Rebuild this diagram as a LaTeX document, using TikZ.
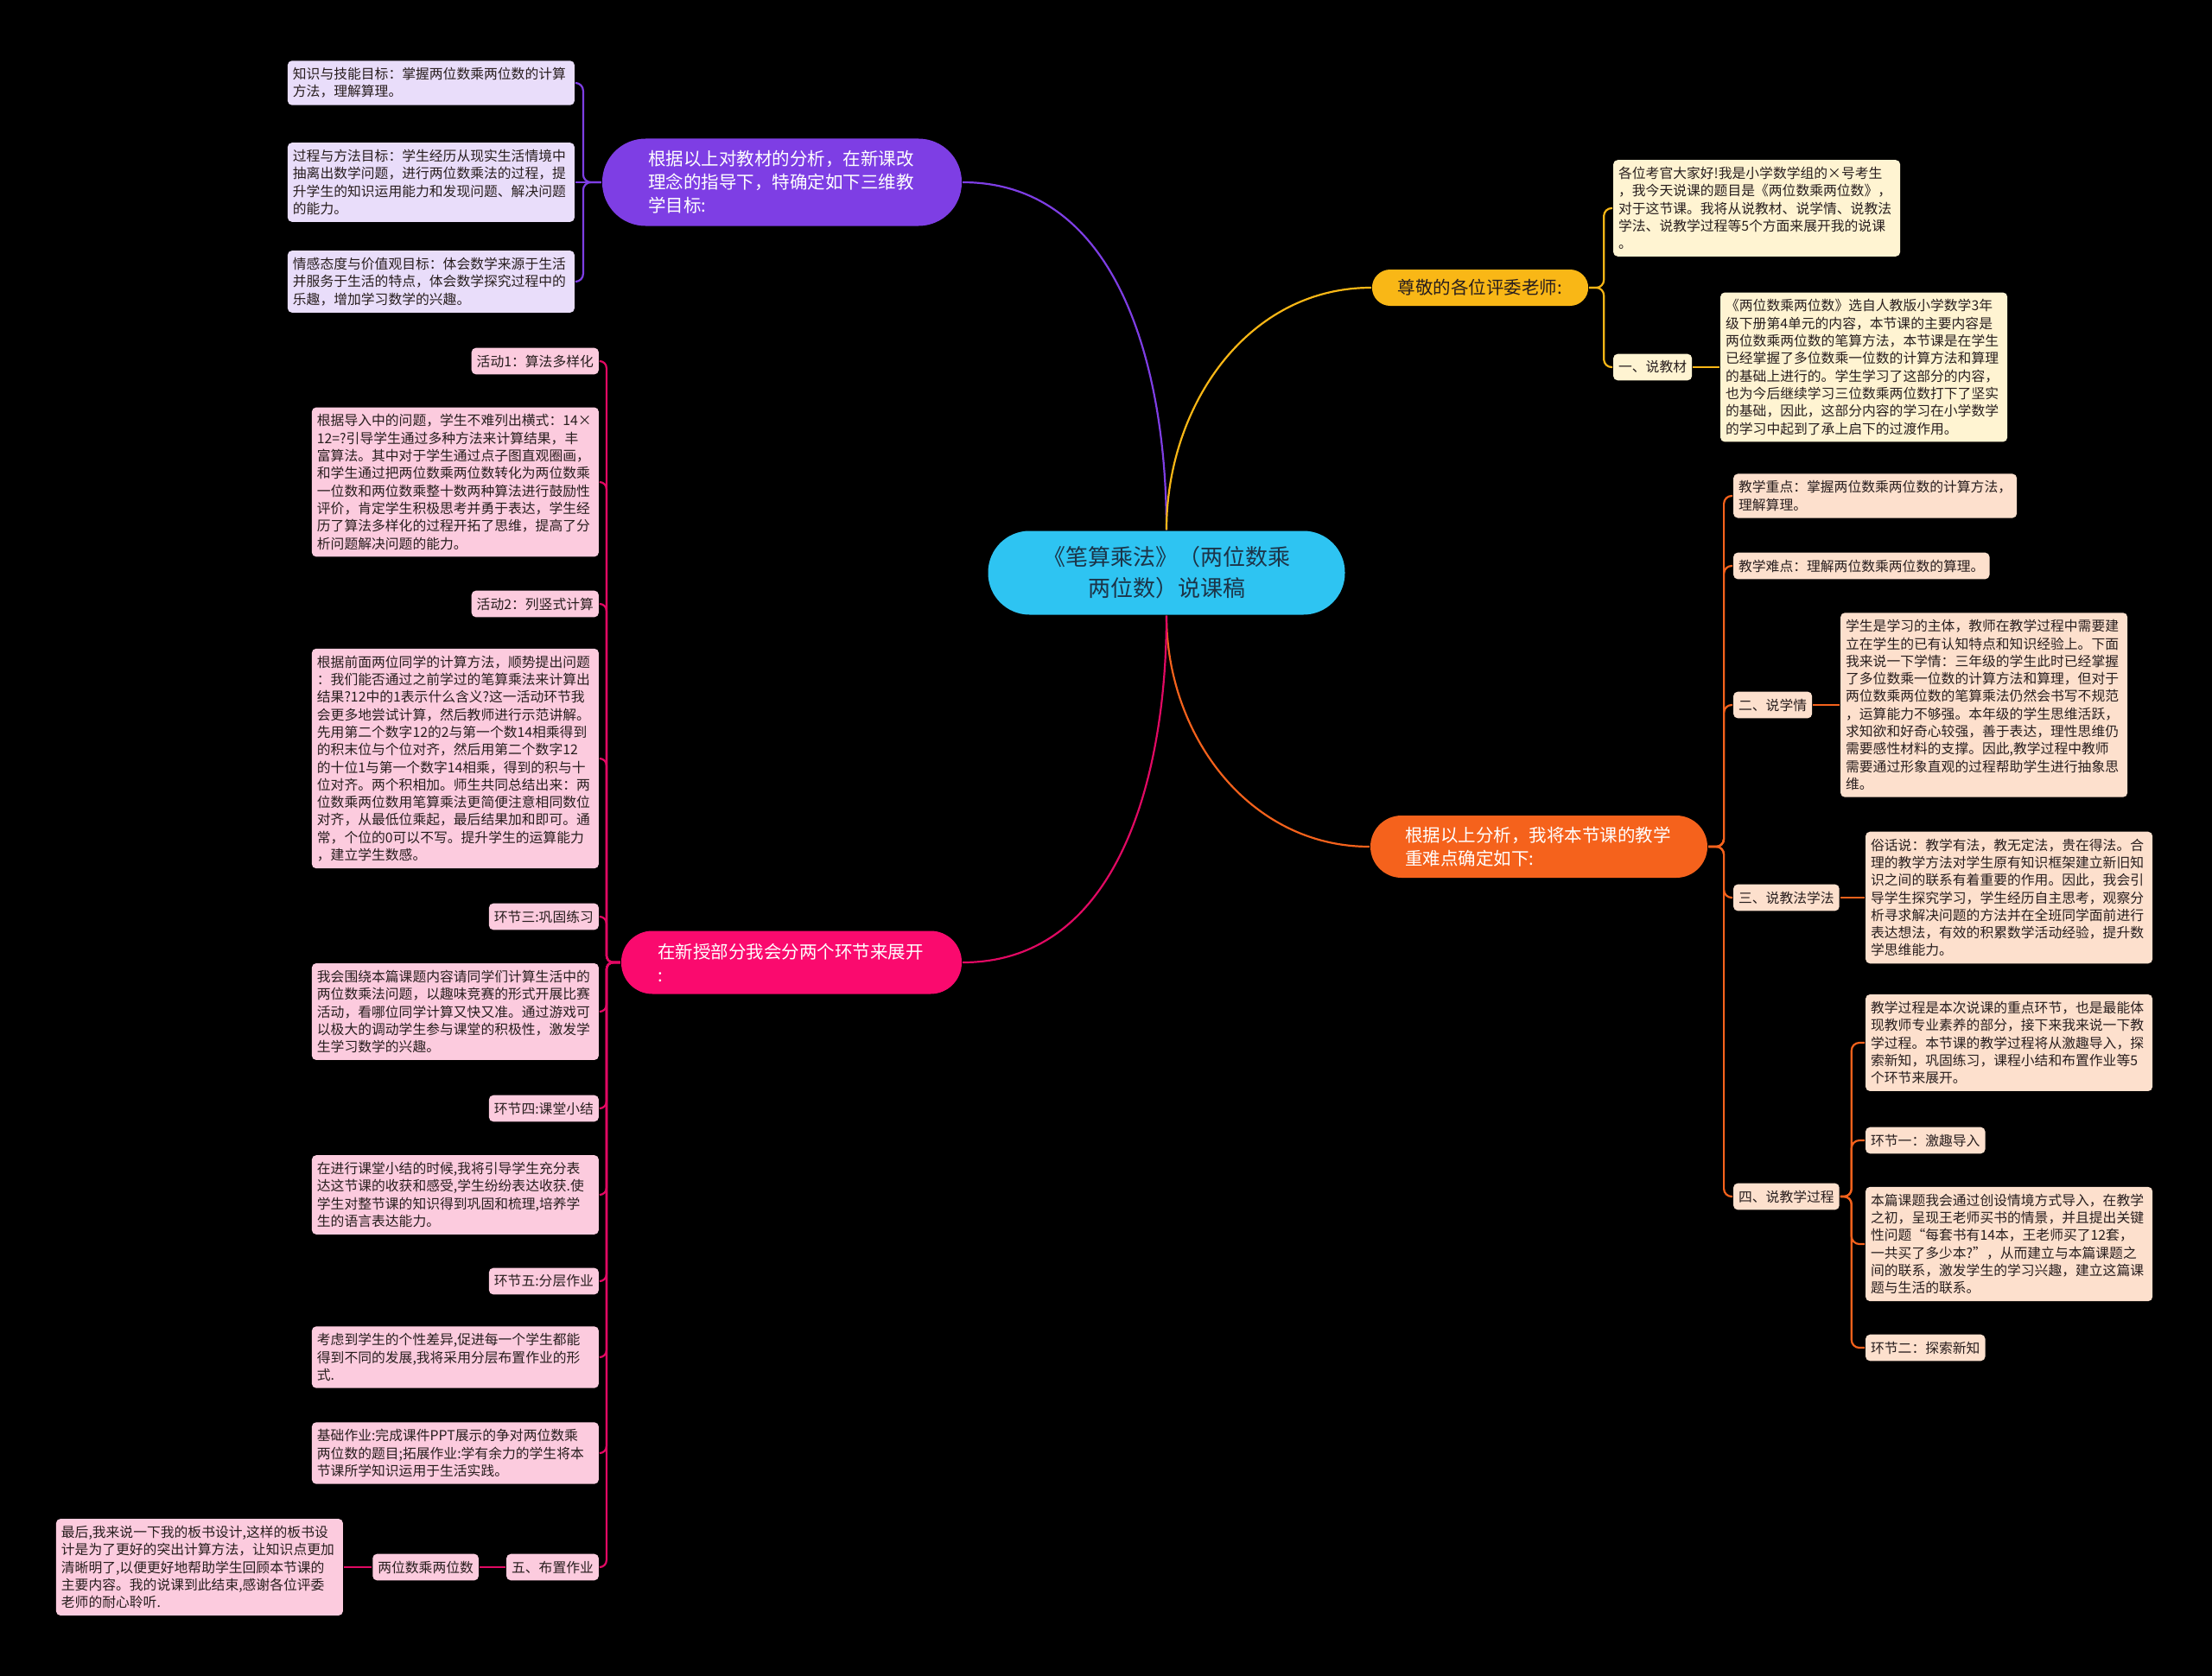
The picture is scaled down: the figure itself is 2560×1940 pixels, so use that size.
\documentclass[tikz,border=0pt]{standalone}
\usepackage{fontspec}
\setmainfont{Noto Sans CJK SC}
\definecolor{rootblue}{RGB}{46,196,242}
\definecolor{rootink}{RGB}{28,52,72}
\definecolor{goalpurple}{RGB}{126,62,228}
\definecolor{goallight}{RGB}{233,221,250}
\definecolor{greetyellow}{RGB}{249,183,22}
\definecolor{greetlight}{RGB}{255,244,210}
\definecolor{keyorange}{RGB}{245,98,28}
\definecolor{keylight}{RGB}{253,224,205}
\definecolor{partpink}{RGB}{250,10,110}
\definecolor{partlight}{RGB}{252,203,222}
\definecolor{leafink}{RGB}{40,30,30}

\begin{document}
\begin{tikzpicture}[x=1pt, y=-1pt, line width=2.2pt,
    leaf/.style={rounded corners=5pt, font=\fontsize{15.8}{20.3}\selectfont,
      text=leafink, inner xsep=6pt, inner ysep=8pt, align=left},
    tag/.style={leaf},
    memo/.style={leaf, text width=320pt},
    trunk/.style={font=\fontsize{20.5}{27}\selectfont, align=left, text=white},
    goalline/.style={draw=goalpurple, rounded corners=9pt},
    greetline/.style={draw=greetyellow, rounded corners=9pt},
    keyline/.style={draw=keyorange, rounded corners=9pt},
    partline/.style={draw=partpink!90!black, rounded corners=8pt}]
  \fill[black] (0,0) rectangle (2560,1940);
  \useasboundingbox (0,0) rectangle (2560,1940);

  % centre and main branches
  \node[fill=rootblue, text=rootink, rounded corners=48pt, minimum width=413pt,
        minimum height=97pt, align=center, font=\fontsize{26}{36}\selectfont]
        (root) at (1350,663) {《笔算乘法》（两位数乘\\两位数）说课稿};
  \node[trunk, fill=goalpurple, rounded corners=50pt, text width=310pt,
        inner xsep=53pt, minimum height=101pt] (goals) at (905,211)
        {根据以上对教材的分析，在新课改\\理念的指导下，特确定如下三维教\\学目标:};
  \node[trunk, fill=greetyellow, text=leafink, rounded corners=21pt,
        inner xsep=30pt, minimum height=42pt] (greet) at (1713,333)
        {尊敬的各位评委老师:};
  \node[trunk, fill=keyorange, rounded corners=36pt, text width=310pt,
        inner xsep=40pt, minimum height=72pt] (keys) at (1781,980)
        {根据以上分析，我将本节课的教学\\重难点确定如下:};
  \node[trunk, fill=partpink, rounded corners=36pt, text width=310pt,
        inner xsep=42pt, minimum height=73pt] (parts) at (916,1114)
        {在新授部分我会分两个环节来展开\\:};

  \draw[goalpurple] (root.north) to[out=90, in=0] (goals.east);
  \draw[greetyellow] (root.north) to[out=90, in=180] (greet.west);
  \draw[keyorange] (root.south) to[out=-90, in=180] (keys.west);
  \draw[partpink!90!black] (root.south) to[out=-90, in=0] (parts.east);

  % goals
  \node[memo, fill=goallight, anchor=east] (goal1) at (666,96)
        {知识与技能目标：掌握两位数乘两位数的计算\\方法，理解算理。};
  \node[memo, fill=goallight, anchor=east] (goal2) at (666,211)
        {过程与方法目标：学生经历从现实生活情境中\\抽离出数学问题，进行两位数乘法的过程，提\\升学生的知识运用能力和发现问题、解决问题\\的能力。};
  \node[memo, fill=goallight, anchor=east] (goal3) at (666,326)
        {情感态度与价值观目标：体会数学来源于生活\\并服务于生活的特点，体会数学探究过程中的\\乐趣，增加学习数学的兴趣。};
  \foreach \c in {goal1,goal3}
    \draw[goalline] (goals.west) -- ++(-21,0) |- (\c.east);
  \draw[goalline] (goals.west) -- (goal2.east);

  % greeting
  \node[memo, fill=greetlight, anchor=west] (hello) at (1866,241)
        {各位考官大家好!我是小学数学组的×号考生\\，我今天说课的题目是《两位数乘两位数》，\\对于这节课。我将从说教材、说学情、说教法\\学法、说教学过程等5个方面来展开我的说课\\。};
  \node[tag, fill=greetlight, anchor=west] (mat) at (1866,425) {一、说教材};
  \node[memo, fill=greetlight, anchor=west] (matText) at (1990,425)
        {《两位数乘两位数》选自人教版小学数学3年\\级下册第4单元的内容，本节课的主要内容是\\两位数乘两位数的笔算方法，本节课是在学生\\已经掌握了多位数乘一位数的计算方法和算理\\的基础上进行的。学生学习了这部分的内容，\\也为今后继续学习三位数乘两位数打下了坚实\\的基础，因此，这部分内容的学习在小学数学\\的学习中起到了承上启下的过渡作用。};
  \foreach \c in {hello,mat}
    \draw[greetline] (greet.east) -- ++(17,0) |- (\c.west);
  \draw[greetyellow] (mat.east) -- (matText.west);

  % key points
  \node[tag, fill=keylight, anchor=west] (key1) at (2005,574)
        {教学重点：掌握两位数乘两位数的计算方法，\\理解算理。};
  \node[tag, fill=keylight, anchor=west] (key2) at (2005,655)
        {教学难点：理解两位数乘两位数的算理。};
  \node[tag, fill=keylight, anchor=west] (stu) at (2005,816) {二、说学情};
  \node[memo, fill=keylight, anchor=west] (stuText) at (2129,816)
        {学生是学习的主体，教师在教学过程中需要建\\立在学生的已有认知特点和知识经验上。下面\\我来说一下学情：三年级的学生此时已经掌握\\了多位数乘一位数的计算方法和算理，但对于\\两位数乘两位数的笔算乘法仍然会书写不规范\\，运算能力不够强。本年级的学生思维活跃，\\求知欲和好奇心较强，善于表达，理性思维仍\\需要感性材料的支撑。因此,教学过程中教师\\需要通过形象直观的过程帮助学生进行抽象思\\维。};
  \node[tag, fill=keylight, anchor=west] (meth) at (2005,1039) {三、说教法学法};
  \node[memo, fill=keylight, anchor=west] (methText) at (2158,1039)
        {俗话说：教学有法，教无定法，贵在得法。合\\理的教学方法对学生原有知识框架建立新旧知\\识之间的联系有着重要的作用。因此，我会引\\导学生探究学习，学生经历自主思考，观察分\\析寻求解决问题的方法并在全班同学面前进行\\表达想法，有效的积累数学活动经验，提升数\\学思维能力。};
  \node[tag, fill=keylight, anchor=west] (proc) at (2005,1385) {四、说教学过程};
  \node[memo, fill=keylight, anchor=west] (procText) at (2158,1207)
        {教学过程是本次说课的重点环节，也是最能体\\现教师专业素养的部分，接下来我来说一下教\\学过程。本节课的教学过程将从激趣导入，探\\索新知，巩固练习，课程小结和布置作业等5\\个环节来展开。};
  \node[tag, fill=keylight, anchor=west] (step1) at (2158,1320) {环节一：激趣导入};
  \node[memo, fill=keylight, anchor=west] (step1Text) at (2158,1440)
        {本篇课题我会通过创设情境方式导入，在教学\\之初，呈现王老师买书的情景，并且提出关键\\性问题“每套书有14本，王老师买了12套，\\一共买了多少本?”，从而建立与本篇课题之\\间的联系，激发学生的学习兴趣，建立这篇课\\题与生活的联系。};
  \node[tag, fill=keylight, anchor=west] (step2) at (2158,1560) {环节二：探索新知};
  \foreach \c in {key1,key2,stu,meth,proc}
    \draw[keyline] (keys.east) -- ++(18,0) |- (\c.west);
  \draw[keyorange] (stu.east) -- (stuText.west);
  \draw[keyorange] (meth.east) -- (methText.west);
  \foreach \c in {procText,step1,step1Text,step2}
    \draw[keyline] (proc.east) -- ++(13,0) |- (\c.west);

  % new lesson parts
  \node[tag, fill=partlight, anchor=east] (act1) at (694,418) {活动1：算法多样化};
  \node[memo, fill=partlight, anchor=east] (act1Text) at (694,558)
        {根据导入中的问题，学生不难列出横式：14×\\12=?引导学生通过多种方法来计算结果，丰\\富算法。其中对于学生通过点子图直观圈画，\\和学生通过把两位数乘两位数转化为两位数乘\\一位数和两位数乘整十数两种算法进行鼓励性\\评价，肯定学生积极思考并勇于表达，学生经\\历了算法多样化的过程开拓了思维，提高了分\\析问题解决问题的能力。};
  \node[tag, fill=partlight, anchor=east] (act2) at (694,699) {活动2：列竖式计算};
  \node[memo, fill=partlight, anchor=east] (act2Text) at (694,878)
        {根据前面两位同学的计算方法，顺势提出问题\\：我们能否通过之前学过的笔算乘法来计算出\\结果?12中的1表示什么含义?这一活动环节我\\会更多地尝试计算，然后教师进行示范讲解。\\先用第二个数字12的2与第一个数14相乘得到\\的积末位与个位对齐，然后用第二个数字12\\的十位1与第一个数字14相乘，得到的积与十\\位对齐。两个积相加。师生共同总结出来：两\\位数乘两位数用笔算乘法更简便注意相同数位\\对齐，从最低位乘起，最后结果加和即可。通\\常，个位的0可以不写。提升学生的运算能力\\，建立学生数感。};
  \node[tag, fill=partlight, anchor=east] (step3) at (694,1061) {环节三:巩固练习};
  \node[memo, fill=partlight, anchor=east] (step3Text) at (694,1171)
        {我会围绕本篇课题内容请同学们计算生活中的\\两位数乘法问题，以趣味竞赛的形式开展比赛\\活动，看哪位同学计算又快又准。通过游戏可\\以极大的调动学生参与课堂的积极性，激发学\\生学习数学的兴趣。};
  \node[tag, fill=partlight, anchor=east] (step4) at (694,1283) {环节四:课堂小结};
  \node[memo, fill=partlight, anchor=east] (step4Text) at (694,1383)
        {在进行课堂小结的时候,我将引导学生充分表\\达这节课的收获和感受,学生纷纷表达收获.使\\学生对整节课的知识得到巩固和梳理,培养学\\生的语言表达能力。};
  \node[tag, fill=partlight, anchor=east] (step5) at (694,1483) {环节五:分层作业};
  \node[memo, fill=partlight, anchor=east] (step5Text) at (694,1571)
        {考虑到学生的个性差异,促进每一个学生都能\\得到不同的发展,我将采用分层布置作业的形\\式.};
  \node[memo, fill=partlight, anchor=east] (step5More) at (694,1682)
        {基础作业:完成课件PPT展示的争对两位数乘\\两位数的题目;拓展作业:学有余力的学生将本\\节课所学知识运用于生活实践。};
  \node[tag, fill=partlight, anchor=east] (hw) at (694,1814) {五、布置作业};
  \node[tag, fill=partlight, anchor=east] (board) at (555,1814) {两位数乘两位数};
  \node[memo, fill=partlight, anchor=east] (boardText) at (398,1814)
        {最后,我来说一下我的板书设计,这样的板书设\\计是为了更好的突出计算方法，让知识点更加\\清晰明了,以便更好地帮助学生回顾本节课的\\主要内容。我的说课到此结束,感谢各位评委\\老师的耐心聆听.};
  \foreach \c in {act1,act1Text,act2,act2Text,step3,step3Text,step4,step4Text,
                  step5,step5Text,step5More,hw}
    \draw[partline] (parts.west) -- ++(-16,0) |- (\c.east);
  \draw[partpink!90!black] (hw.west) -- (board.east);
  \draw[partpink!90!black] (board.west) -- (boardText.east);
\end{tikzpicture}
\end{document}
